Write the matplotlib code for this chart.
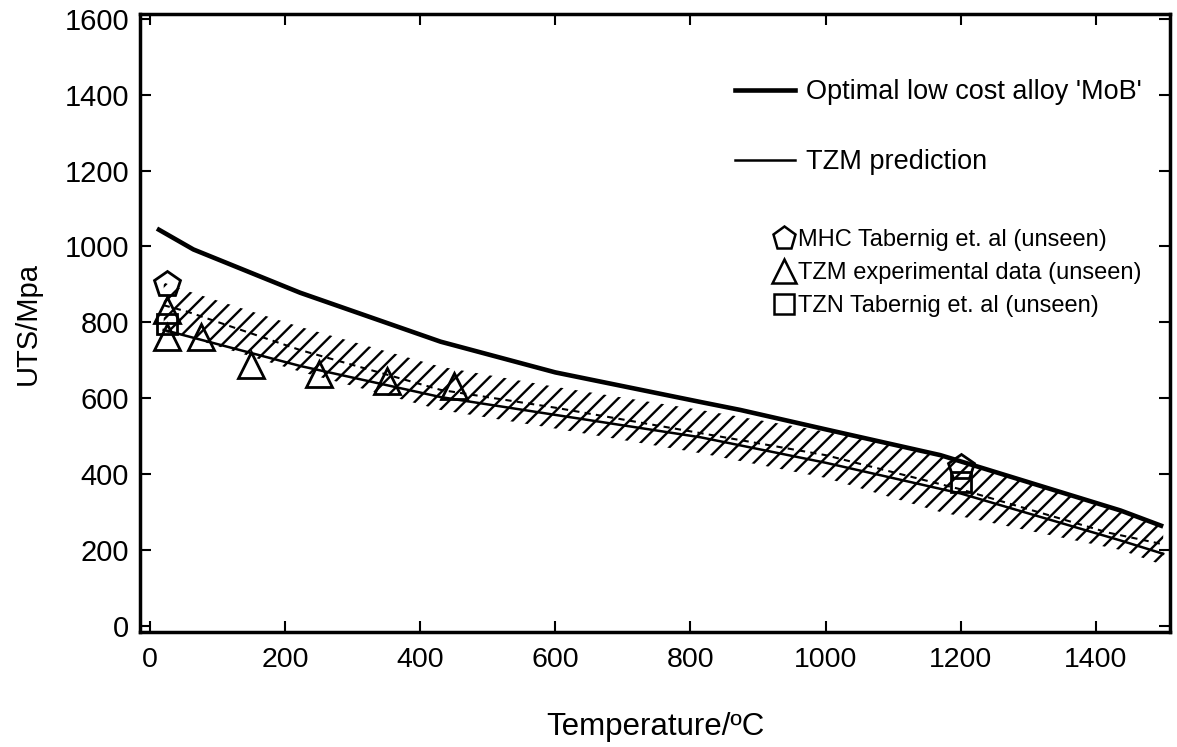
import matplotlib
matplotlib.use("Agg")
import matplotlib.pyplot as plt
from matplotlib import font_manager
from matplotlib.lines import Line2D

names = {f.name for f in font_manager.fontManager.ttflist}
FONT = "Liberation Sans" if "Liberation Sans" in names else "DejaVu Sans"

# ---- data ----
mob_T = [10, 64, 222, 430, 600, 815, 874, 1000, 1170, 1437, 1500]
mob_U = [1047, 992, 878, 749, 668, 590, 569, 518, 450, 304, 262]

tzm_T = [20, 222, 430, 600, 815, 1000, 1200, 1437, 1500]
tzm_U = [780, 685, 603, 556, 497, 430, 349, 225, 190]

mean_T = [20, 55, 222, 430, 600, 815, 1000, 1200, 1418, 1500]
mean_U = [845, 828, 727, 622, 575, 508, 450, 360, 246, 215]

band_T = [20, 49, 222, 430, 600, 815, 1000, 1170, 1437, 1500]
band_hi = [905, 886, 788, 683, 630, 569, 512, 450, 304, 262]
band_lo = [775, 765, 670, 569, 520, 455, 390, 300, 200, 160]

mhc_T = [25, 1200]
mhc_U = [900, 420]
tzm_exp_T = [25, 25, 75, 150, 250, 350, 450]
tzm_exp_U = [760, 833, 762, 688, 665, 645, 632]
tzn_T = [25, 1200]
tzn_U = [795, 378]

xticks = [0, 200, 400, 600, 800, 1000, 1200, 1400]
yticks = [0, 200, 400, 600, 800, 1000, 1200, 1400, 1600]

plt.rcParams['hatch.linewidth'] = 1.7
plt.rcParams['font.family'] = [FONT, 'DejaVu Sans']

fig = plt.figure(figsize=(11.77, 7.47), dpi=100)
ax = fig.add_axes([0.119, 0.154, 0.875, 0.827])

ax.fill_between(band_T, band_lo, band_hi, facecolor='none', edgecolor='black',
                hatch='//', linewidth=0)
ax.plot(mob_T, mob_U, color='black', lw=3.3, solid_capstyle='butt')
ax.plot(tzm_T, tzm_U, color='black', lw=1.8)
ax.plot(mean_T, mean_U, color='black', lw=1.5, linestyle=(0, (3, 2.5)))

mk = dict(linestyle='none', markerfacecolor='none', markeredgecolor='black', markeredgewidth=2.0)
ax.plot(mhc_T, mhc_U, marker='p', markersize=19, **mk)
ax.plot(tzm_exp_T, tzm_exp_U, marker='^', markersize=19, **mk)
ax.plot(tzn_T, tzn_U, marker='s', markersize=15, **mk)

ax.set_xlim(-15, 1510)
ax.set_ylim(-16, 1612)
ax.set_xticks(xticks)
ax.set_yticks(yticks)
ax.tick_params(direction='in', length=8, width=1.5, top=True, right=True)
ax.tick_params(axis='x', labelsize=20.5, pad=11)
ax.tick_params(axis='y', labelsize=21, pad=8)
for s in ax.spines.values():
    s.set_linewidth(2.5)

ax.set_xlabel('Temperature/ºC', fontsize=22.5, labelpad=28)
ax.set_ylabel('UTS/Mpa', fontsize=21, labelpad=16)

# legends
h1 = [Line2D([], [], color='black', lw=3.3), Line2D([], [], color='black', lw=1.8)]
leg1 = ax.legend(h1, ["Optimal low cost alloy 'MoB'", 'TZM prediction'],
                 loc='upper left', bbox_to_anchor=(0.565, 0.917), frameon=False,
                 prop={'size': 19.5}, handlelength=2.2,
                 handletextpad=0.4, labelspacing=1.63, borderpad=0)
ax.add_artist(leg1)
mkl = dict(linestyle='none', markerfacecolor='none', markeredgecolor='black', markeredgewidth=1.8)
h2 = [Line2D([], [], marker='p', markersize=17, **mkl),
      Line2D([], [], marker='^', markersize=17, **mkl),
      Line2D([], [], marker='s', markersize=14, **mkl)]
ax.legend(h2, ['MHC Tabernig et. al (unseen)', 'TZM experimental data (unseen)',
               'TZN Tabernig et. al (unseen)'],
          loc='upper left', bbox_to_anchor=(0.603, 0.671), frameon=False,
          prop={'size': 17}, handlelength=0.9,
          handletextpad=0.15, labelspacing=0.47, borderpad=0)

fig.savefig('out.png', dpi=100)
